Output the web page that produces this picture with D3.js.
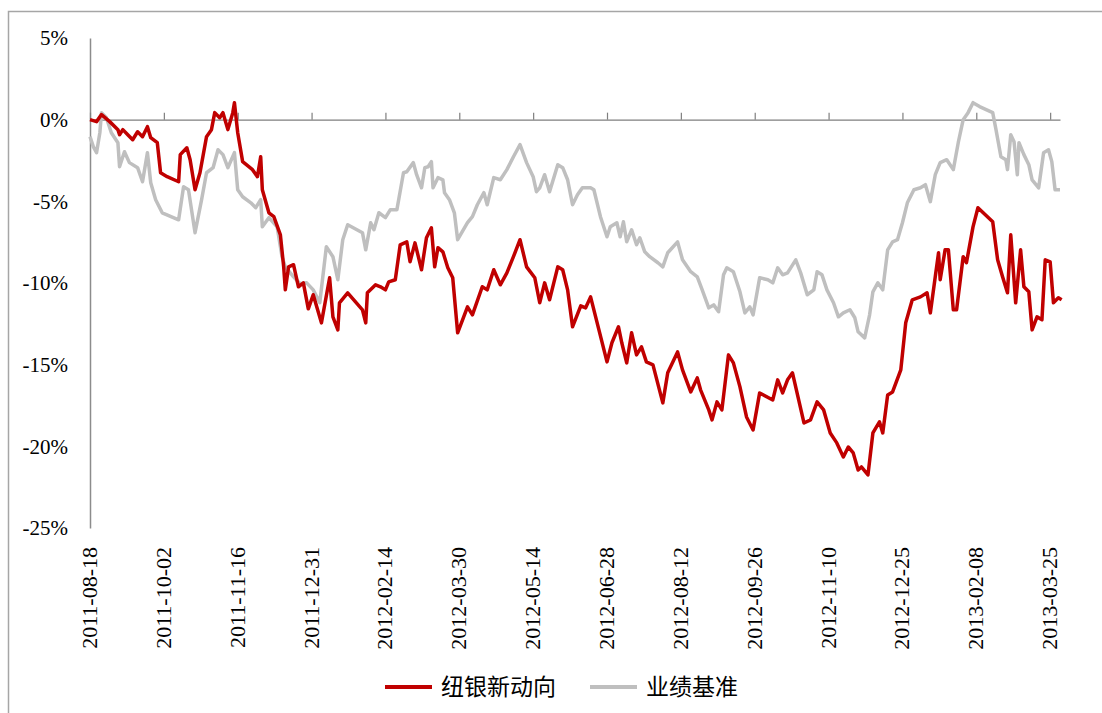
<!doctype HTML>
<html>
<head>
<meta charset="utf-8">
<script src="https://d3js.org/d3.v7.min.js"></script>
<style>
    body { margin: 0; background: #fff; }
</style>
</head>
<body>
<script>

    // ---- data (days after 2011-08-18, percent) ----
    var startDate = "2011-08-18";
    var endDate = "2013-03-31";
    var tickDates = ["2011-08-18", "2011-10-02", "2011-11-16", "2011-12-31", "2012-02-14",
        "2012-03-30", "2012-05-14", "2012-06-28", "2012-08-12", "2012-09-26",
        "2012-11-10", "2012-12-25", "2013-02-08", "2013-03-25"];
    var yTicks = [5, 0, -5, -10, -15, -20, -25];
    var seriesNames = ["纽银新动向", "业绩基准"];

    // 纽银新动向
    var redDay = [
        0, 4, 7, 12, 17, 18, 20, 23, 26, 29,
        32, 35, 37, 41, 43, 47, 54, 55, 59, 61,
        64, 67, 71, 74, 76, 79, 81, 84, 87, 88,
        90, 93, 99, 102, 104, 105, 109, 112, 116, 118,
        119, 121, 124, 127, 130, 133, 136, 141, 146, 148,
        151, 152, 157, 166, 168, 169, 174, 177, 180, 182,
        186, 189, 193, 195, 198, 202, 205, 208, 210, 212,
        215, 218, 221, 224, 230, 233, 239, 242, 246, 250,
        254, 258, 262, 266, 271, 274, 277, 280, 285, 288,
        291, 294, 299, 302, 305, 309, 315, 318, 322, 324,
        327, 330, 333, 336, 339, 343, 349, 352, 358, 361,
        366, 370, 372, 377, 379, 382, 385, 389, 392, 396,
        400, 404, 408, 416, 419, 422, 425, 428, 435, 439,
        443, 447, 451, 455, 459, 462, 465, 468, 470, 474,
        477, 481, 483, 486, 489, 494, 497, 501, 506, 510,
        512, 515, 517, 518, 521, 523, 526, 528, 532, 534,
        538, 541, 550, 553, 556, 559, 561, 564, 567, 569,
        572, 574, 577, 580, 582, 585, 587, 590, 592];
    var redPct = [
        0.00, -0.12, 0.31, -0.12, -0.61, -0.92, -0.61, -0.92, -1.23, -0.74,
        -1.04, -0.43, -1.10, -1.41, -3.25, -3.49, -3.80, -2.14, -1.72, -2.45,
        -4.29, -3.25, -1.04, -0.61, 0.43, 0.12, 0.43, -0.61, 0.43, 1.04,
        -0.80, -2.57, -3.06, -3.49, -2.27, -4.29, -5.70, -5.94, -7.05, -9.01,
        -10.42, -9.01, -8.88, -10.23, -9.99, -11.58, -10.72, -12.44, -9.68, -12.07,
        -12.87, -11.21, -10.60, -11.64, -12.44, -10.60, -10.11, -10.23, -10.42, -9.93,
        -9.80, -7.66, -7.48, -8.70, -7.54, -9.19, -7.23, -6.62, -9.01, -7.84,
        -8.09, -9.07, -9.68, -13.05, -11.46, -11.95, -10.23, -10.42, -9.19, -10.11,
        -9.38, -8.39, -7.35, -9.01, -9.68, -11.21, -9.99, -11.03, -9.01, -9.19,
        -10.42, -12.68, -11.40, -11.52, -10.85, -12.44, -14.83, -13.66, -12.68, -13.66,
        -14.89, -13.05, -14.40, -13.91, -14.83, -15.01, -17.34, -15.50, -14.22, -15.32,
        -16.67, -15.81, -16.54, -17.77, -18.38, -17.28, -17.77, -14.40, -14.89, -16.36,
        -18.20, -19.00, -16.73, -17.16, -15.93, -16.73, -15.93, -15.50, -18.57, -18.38,
        -17.28, -17.77, -19.18, -19.79, -20.65, -20.04, -20.40, -21.45, -21.26, -21.75,
        -19.18, -18.50, -19.18, -16.85, -16.67, -15.32, -12.44, -11.03, -10.85, -10.60,
        -11.83, -9.62, -8.15, -9.80, -7.97, -7.97, -11.64, -11.64, -8.39, -8.76,
        -6.56, -5.39, -6.25, -8.58, -9.62, -10.60, -7.05, -11.21, -7.97, -10.23,
        -10.54, -12.87, -12.07, -12.25, -8.58, -8.70, -11.21, -10.91, -11.03];

    // 业绩基准
    var grayDay = [
        0, 2, 4, 6, 7, 10, 13, 17, 18, 21,
        24, 29, 32, 35, 37, 40, 44, 54, 57, 60,
        64, 68, 71, 75, 78, 81, 84, 88, 90, 93,
        98, 101, 104, 105, 109, 114, 117, 119, 124, 128,
        132, 136, 140, 144, 148, 151, 154, 157, 166, 168,
        171, 173, 176, 180, 183, 187, 191, 193, 197, 199,
        202, 204, 206, 208, 209, 212, 215, 216, 219, 222,
        224, 230, 233, 236, 240, 242, 246, 250, 254, 258,
        262, 266, 270, 272, 274, 277, 280, 285, 288, 291,
        294, 297, 300, 305, 307, 311, 315, 317, 321, 323,
        325, 327, 330, 333, 335, 338, 341, 346, 349, 352,
        358, 361, 366, 370, 373, 377, 380, 383, 386, 388,
        392, 396, 399, 402, 404, 408, 413, 416, 419, 422,
        425, 430, 433, 437, 441, 443, 446, 449, 453, 456,
        459, 463, 466, 468, 472, 475, 477, 480, 483, 486,
        489, 492, 495, 498, 502, 506, 509, 512, 515, 518,
        522, 526, 529, 532, 535, 538, 542, 550, 552, 555,
        558, 559, 561, 563, 565, 566, 569, 572, 574, 578,
        581, 584, 586, 588, 591];
    var grayPct = [
        -1.04, -1.65, -2.02, -0.80, 0.43, 0.12, -0.80, -1.41, -2.88, -1.96,
        -2.63, -2.94, -3.80, -2.02, -3.86, -4.90, -5.70, -6.13, -4.11, -4.29,
        -6.92, -4.90, -3.25, -2.94, -1.84, -2.14, -2.94, -2.02, -4.29, -4.72,
        -5.09, -5.39, -4.90, -6.56, -6.00, -6.56, -8.39, -9.01, -9.62, -10.05,
        -9.99, -10.42, -11.21, -7.78, -8.39, -9.80, -7.35, -6.43, -6.92, -7.97,
        -6.31, -6.74, -5.70, -6.00, -5.51, -5.51, -3.25, -3.19, -2.63, -3.37,
        -4.17, -2.94, -2.88, -2.57, -4.17, -3.55, -3.68, -4.47, -4.90, -5.70,
        -7.35, -6.31, -5.94, -5.21, -4.47, -5.21, -3.55, -3.68, -3.06, -2.27,
        -1.53, -2.63, -3.49, -4.41, -4.17, -3.37, -4.41, -2.76, -2.94, -3.68,
        -5.21, -4.60, -4.17, -4.17, -4.29, -5.94, -7.17, -6.56, -6.31, -7.17,
        -6.25, -7.48, -6.74, -7.66, -7.23, -8.09, -8.39, -8.76, -9.01, -8.15,
        -7.48, -8.58, -9.31, -9.62, -10.42, -11.52, -11.34, -11.76, -9.50, -9.07,
        -9.31, -10.54, -11.83, -11.46, -11.95, -9.68, -9.80, -9.99, -9.07, -9.50,
        -9.38, -8.58, -9.38, -10.72, -10.42, -9.31, -9.50, -10.42, -11.21, -12.07,
        -11.83, -11.64, -12.13, -12.99, -13.36, -11.95, -10.54, -9.99, -10.42, -7.97,
        -7.48, -7.35, -6.31, -5.09, -4.29, -4.17, -3.98, -5.02, -3.37, -2.63,
        -2.45, -3.06, -1.41, 0.00, 0.43, 1.04, 0.80, 0.43, -0.61, -2.27,
        -2.45, -3.06, -0.92, -1.35, -3.37, -1.41, -2.14, -2.76, -3.68, -4.17,
        -2.02, -1.84, -2.57, -4.29, -4.29];

    var colors = ["#c00000", "#bfbfbf"];

    var parse = d3.timeParse("%Y-%m-%d");
    var t0 = parse(startDate);

    var svg = d3.select("body")
        .append("svg")
        .attr("width", 1102)
        .attr("height", 713);

    // chart frame
    svg.append("rect")
        .attr("x", 8.5).attr("y", 11.5)
        .attr("width", 1300).attr("height", 900)
        .attr("fill", "none")
        .attr("stroke", "#a6a6a6")
        .attr("stroke-width", 1.5);

    var x = d3.scaleTime()
        .domain([t0, parse(endDate)])
        .range([90, 1060]);
    var y = d3.scaleLinear()
        .domain([-25, 5])
        .range([528, 38]);

    // y axis
    var yAxis = svg.append("g")
        .attr("transform", "translate(90,0)")
        .call(d3.axisLeft(y).tickValues(yTicks).tickSize(0).tickPadding(22)
            .tickFormat(function(d) { return d + "%"; }));
    yAxis.select(".domain").attr("stroke", "#8c8c8c").attr("stroke-width", 1.5);
    yAxis.selectAll("text")
        .attr("font-family", "Liberation Serif")
        .attr("font-size", "21px")
        .attr("fill", "#000");

    // x axis sits on the 0% line
    var xAxis = svg.append("g")
        .attr("transform", "translate(0," + y(0) + ")")
        .call(d3.axisTop(x).tickValues(tickDates.map(parse)).tickSize(7).tickSizeOuter(0).tickFormat(""));
    xAxis.selectAll("path, line").attr("stroke", "#7f7f7f").attr("stroke-width", 1.2);

    // x labels at the bottom, rotated
    svg.append("g")
        .selectAll("text")
        .data(tickDates)
        .enter().append("text")
        .attr("transform", function(d) { return "translate(" + (x(parse(d)) + 7) + ",547) rotate(-90)"; })
        .attr("text-anchor", "end")
        .attr("font-family", "Liberation Serif")
        .attr("font-size", "22px")
        .attr("fill", "#000")
        .text(function(d) { return d; });

    var line = d3.line()
        .x(function(d) { return x(d3.timeDay.offset(t0, d[0])); })
        .y(function(d) { return y(d[1]); });

    svg.append("path")
        .datum(d3.zip(grayDay, grayPct))
        .attr("fill", "none")
        .attr("stroke", colors[1])
        .attr("stroke-width", 3.5)
        .attr("stroke-linejoin", "round")
        .attr("d", line);

    svg.append("path")
        .datum(d3.zip(redDay, redPct))
        .attr("fill", "none")
        .attr("stroke", colors[0])
        .attr("stroke-width", 3.5)
        .attr("stroke-linejoin", "round")
        .attr("d", line);

    // legend
    var legendX = [385, 590];
    var legend = svg.append("g");
    seriesNames.forEach(function(name, i) {
        legend.append("line")
            .attr("x1", legendX[i]).attr("x2", legendX[i] + 47)
            .attr("y1", 687).attr("y2", 687)
            .attr("stroke", colors[i])
            .attr("stroke-width", 4);
        legend.append("text")
            .attr("x", legendX[i] + 56)
            .attr("y", 695)
            .attr("font-family", "Noto Sans CJK SC")
            .attr("font-size", "23px")
            .attr("fill", "#000")
            .text(name);
    });

</script>
</body>
</html>
